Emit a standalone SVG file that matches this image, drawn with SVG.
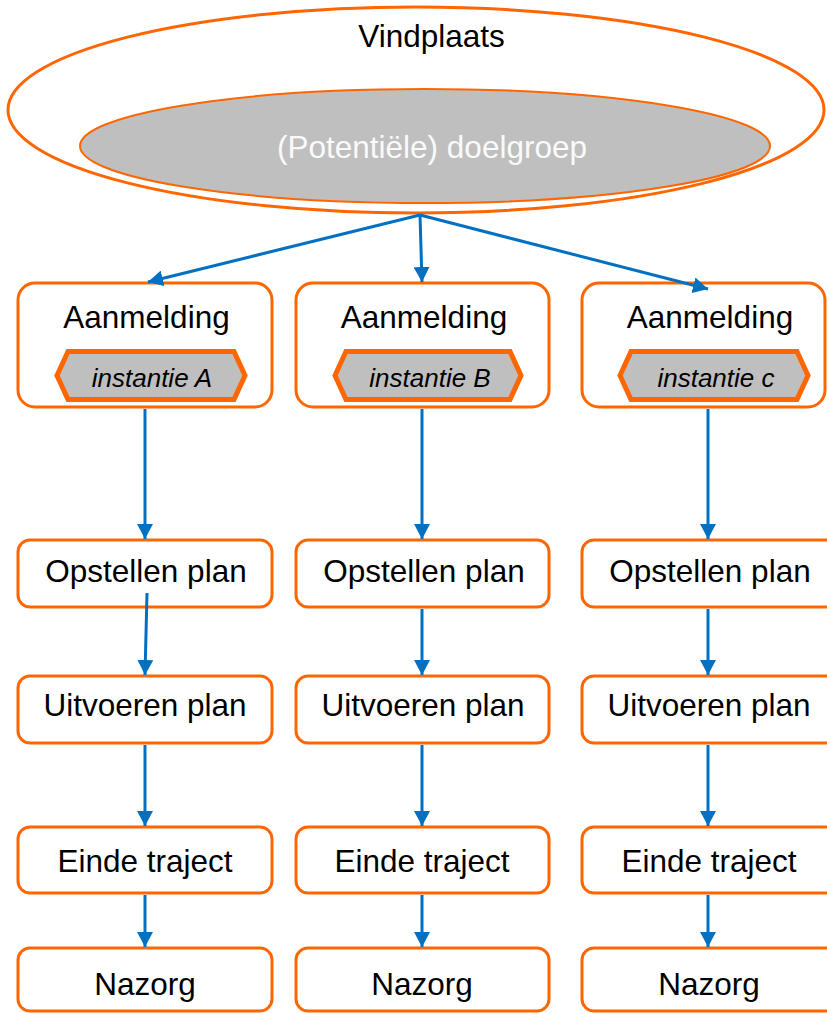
<svg xmlns="http://www.w3.org/2000/svg" width="827" height="1013" viewBox="0 0 827 1013">
<style>
.box{fill:#fff;stroke:#FF6600;stroke-width:3}
.hex{fill:#BFBFBF;stroke:#FF6600;stroke-width:5;stroke-linejoin:miter}
.lbl{font-family:"Liberation Sans",Arial,sans-serif;font-size:31.5px;fill:#000;text-anchor:middle}
.tag{font-family:"Liberation Sans",Arial,sans-serif;font-size:26px;font-style:italic;fill:#000;text-anchor:middle}
.con{stroke:#0070C0;stroke-width:3;fill:none;marker-end:url(#ah)}
</style>
<defs>
<marker id="ah" markerUnits="userSpaceOnUse" markerWidth="16" markerHeight="16" refX="15" refY="8" orient="auto">
<path d="M0,0 L15,8 L0,16 z" fill="#0070C0"/>
</marker>
</defs>
<rect width="827" height="1013" fill="#fff"/>

<g id="vindplaats">
<ellipse cx="416" cy="110" rx="408" ry="103" fill="#fff" stroke="#FF6600" stroke-width="3"/>
<text class="lbl" x="431.5" y="47">Vindplaats</text>
</g>
<g id="doelgroep">
<ellipse cx="425" cy="146" rx="345" ry="57" fill="#BFBFBF" stroke="#FF6600" stroke-width="2"/>
<text class="lbl" x="432" y="158" style="fill:#FAFAFA">(Potentiële) doelgroep</text>
</g>

<g id="aanmelding-a">
<rect class="box" x="18" y="283" width="254" height="124" rx="17"/>
<text class="lbl" x="146.5" y="328">Aanmelding</text>
<path class="hex" d="M57,375.5 L68,351.5 L234,351.5 L245,375.5 L234,399.5 L68,399.5 Z"/>
<text class="tag" x="152" y="387">instantie A</text>
</g>
<g id="aanmelding-b">
<rect class="box" x="296" y="283" width="253" height="124" rx="17"/>
<text class="lbl" x="424" y="328">Aanmelding</text>
<path class="hex" d="M335,375.5 L346,351.5 L510,351.5 L521,375.5 L510,399.5 L346,399.5 Z"/>
<text class="tag" x="430" y="387">instantie B</text>
</g>
<g id="aanmelding-c">
<rect class="box" x="582" y="283" width="243" height="124" rx="17"/>
<text class="lbl" x="710" y="328">Aanmelding</text>
<path class="hex" d="M620,375.5 L631,351.5 L797,351.5 L808,375.5 L797,399.5 L631,399.5 Z"/>
<text class="tag" x="716" y="387">instantie c</text>
</g>

<g id="opstellen-a"><rect class="box" x="18" y="540" width="254" height="67" rx="12"/><text class="lbl" x="146" y="582">Opstellen plan</text></g>
<g id="opstellen-b"><rect class="box" x="296" y="540" width="253" height="67" rx="12"/><text class="lbl" x="424" y="582">Opstellen plan</text></g>
<g id="opstellen-c"><rect class="box" x="582" y="540" width="260" height="67" rx="12"/><text class="lbl" x="710" y="582">Opstellen plan</text></g>

<g id="uitvoeren-a"><rect class="box" x="18" y="676" width="254" height="67" rx="12"/><text class="lbl" x="145" y="716">Uitvoeren plan</text></g>
<g id="uitvoeren-b"><rect class="box" x="296" y="676" width="253" height="67" rx="12"/><text class="lbl" x="423" y="716">Uitvoeren plan</text></g>
<g id="uitvoeren-c"><rect class="box" x="582" y="676" width="260" height="67" rx="12"/><text class="lbl" x="709" y="716">Uitvoeren plan</text></g>

<g id="einde-a"><rect class="box" x="18" y="827" width="254" height="66" rx="12"/><text class="lbl" x="145" y="872">Einde traject</text></g>
<g id="einde-b"><rect class="box" x="296" y="827" width="253" height="66" rx="12"/><text class="lbl" x="422" y="872">Einde traject</text></g>
<g id="einde-c"><rect class="box" x="582" y="827" width="260" height="66" rx="12"/><text class="lbl" x="709" y="872">Einde traject</text></g>

<g id="nazorg-a"><rect class="box" x="18" y="948" width="254" height="63" rx="12"/><text class="lbl" x="145" y="995">Nazorg</text></g>
<g id="nazorg-b"><rect class="box" x="296" y="948" width="253" height="63" rx="12"/><text class="lbl" x="422" y="995">Nazorg</text></g>
<g id="nazorg-c"><rect class="box" x="582" y="948" width="260" height="63" rx="12"/><text class="lbl" x="709" y="995">Nazorg</text></g>

<g id="connectors">
<line class="con" x1="420" y1="215" x2="148" y2="282"/>
<line class="con" x1="420" y1="215" x2="422" y2="282"/>
<line class="con" x1="420" y1="215" x2="708" y2="289"/>

<line class="con" x1="145" y1="409" x2="145" y2="539"/>
<line class="con" x1="147" y1="593" x2="145" y2="675"/>
<line class="con" x1="145" y1="745" x2="145" y2="826"/>
<line class="con" x1="145" y1="895" x2="145" y2="947"/>

<line class="con" x1="422" y1="409" x2="422" y2="539"/>
<line class="con" x1="422" y1="609" x2="422" y2="675"/>
<line class="con" x1="422" y1="745" x2="422" y2="826"/>
<line class="con" x1="422" y1="895" x2="422" y2="947"/>

<line class="con" x1="708" y1="409" x2="708" y2="539"/>
<line class="con" x1="708" y1="609" x2="708" y2="675"/>
<line class="con" x1="708" y1="745" x2="708" y2="826"/>
<line class="con" x1="708" y1="895" x2="708" y2="947"/>
</g>
</svg>
